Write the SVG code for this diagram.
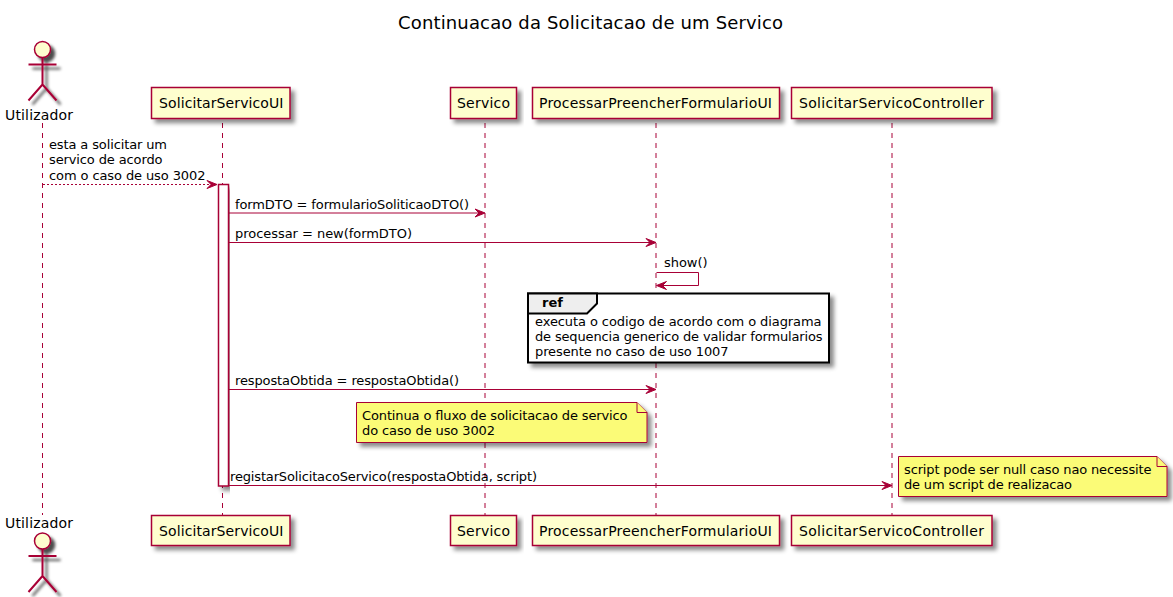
<svg xmlns="http://www.w3.org/2000/svg" width="1173" height="597" viewBox="0 0 1173 597">
<style>
text{font-family:"DejaVu Sans",sans-serif;font-size:13px;fill:#000}
.title{font-size:18px}
.b{font-size:14px}
.p{fill:#FEFECE;stroke:#A80036;stroke-width:1.5}
.ll{stroke:#A80036;stroke-width:1;stroke-dasharray:5,5;fill:none}
.m{stroke:#A80036;stroke-width:1;fill:none}
.h{fill:#A80036;stroke:#A80036;stroke-width:1}
.a{fill:none;stroke:#A80036;stroke-width:2}
.n{fill:#FBFB77;stroke:#A80036;stroke-width:1}
</style>
<defs>
<filter id="sh" x="-10%" y="-20%" width="120%" height="150%"><feDropShadow dx="4" dy="4" stdDeviation="2" flood-color="#000" flood-opacity="0.45"/></filter>
<filter id="sa" x="-60%" y="-20%" width="220%" height="140%"><feDropShadow dx="4" dy="4" stdDeviation="1.5" flood-color="#000" flood-opacity="0.7"/></filter>
<g id="man"><circle class="p" cx="0" cy="0" r="8"/><path class="a" d="M0 8V35M-14 15H14M0 35L-14 51M0 35L14 51"/></g>
</defs>
<text class="title" x="398" y="29" textLength="385">Continuacao da Solicitacao de um Servico</text>
<g id="connectors">
<line class="ll" x1="42.5" y1="123" x2="42.5" y2="515"/>
<line class="ll" x1="222.5" y1="123" x2="222.5" y2="515"/>
<line class="ll" x1="485" y1="123" x2="485" y2="515"/>
<line class="ll" x1="656" y1="123" x2="656" y2="515"/>
<line class="ll" x1="892" y1="123" x2="892" y2="515"/>
</g>
<g id="activation"><rect x="218.5" y="184.5" width="10" height="301.5" fill="#fff" stroke="#A80036" stroke-width="1.5" filter="url(#sh)"/></g>
<g id="messages">
<line class="m" x1="43" y1="184.5" x2="212" y2="184.5" stroke-dasharray="2,2"/>
<polygon class="h" points="217,184.5 207,180.5 211,184.5 207,188.5"/>
<text x="49" y="149" textLength="118">esta a solicitar um</text><text x="49" y="164" textLength="113.5">servico de acordo</text><text x="49" y="179.5" textLength="156.5">com o caso de uso 3002</text>
<line class="m" x1="229" y1="213" x2="480" y2="213"/>
<polygon class="h" points="485,213 475,209 479,213 475,217"/>
<text x="235" y="209" textLength="234">formDTO = formularioSoliticaoDTO()</text>
<line class="m" x1="229" y1="242.5" x2="651" y2="242.5"/>
<polygon class="h" points="656,242.5 646,238.5 650,242.5 646,246.5"/>
<text x="235" y="238" textLength="177">processar = new(formDTO)</text>
<path class="m" d="M656.5 272.5H698.5V285.5H661"/>
<polygon class="h" points="656.5,285.5 666.5,281.5 662.5,285.5 666.5,289.5"/>
<text x="664" y="267" textLength="43.5">show()</text>
<line class="m" x1="229" y1="389.5" x2="651" y2="389.5"/>
<polygon class="h" points="656,389.5 646,385.5 650,389.5 646,393.5"/>
<text x="235" y="385" textLength="224">respostaObtida = respostaObtida()</text>
<line class="m" x1="229" y1="485.5" x2="887" y2="485.5"/>
<polygon class="h" points="892,485.5 882,481.5 886,485.5 882,489.5"/>
<text x="230" y="481" textLength="307">registarSolicitacoServico(respostaObtida, script)</text>
</g>
<g id="actor-top"><use href="#man" x="42.5" y="49.5" filter="url(#sa)"/><text class="b" x="5" y="120" textLength="68">Utilizador</text></g>
<g id="actor-bottom"><use href="#man" x="42.5" y="541" filter="url(#sa)"/><text class="b" x="5" y="528" textLength="68">Utilizador</text></g>
<g id="p-ui-top"><rect class="p" x="151.5" y="87.5" width="138.5" height="31" filter="url(#sh)"/><text class="b" x="159" y="108" textLength="124.5">SolicitarServicoUI</text></g>
<g id="p-ui-bottom"><rect class="p" x="151.5" y="515.5" width="138.5" height="30" filter="url(#sh)"/><text class="b" x="159" y="536" textLength="124.5">SolicitarServicoUI</text></g>
<g id="p-servico-top"><rect class="p" x="450.5" y="87.5" width="66" height="31" filter="url(#sh)"/><text class="b" x="457" y="108" textLength="53">Servico</text></g>
<g id="p-servico-bottom"><rect class="p" x="450.5" y="515.5" width="66" height="30" filter="url(#sh)"/><text class="b" x="457" y="536" textLength="53">Servico</text></g>
<g id="p-form-top"><rect class="p" x="532.5" y="87.5" width="247" height="31" filter="url(#sh)"/><text class="b" x="539" y="108" textLength="233">ProcessarPreencherFormularioUI</text></g>
<g id="p-form-bottom"><rect class="p" x="532.5" y="515.5" width="247" height="30" filter="url(#sh)"/><text class="b" x="539" y="536" textLength="233">ProcessarPreencherFormularioUI</text></g>
<g id="p-ctrl-top"><rect class="p" x="791.5" y="87.5" width="200.5" height="31" filter="url(#sh)"/><text class="b" x="799" y="108" textLength="185">SolicitarServicoController</text></g>
<g id="p-ctrl-bottom"><rect class="p" x="791.5" y="515.5" width="200.5" height="30" filter="url(#sh)"/><text class="b" x="799" y="536" textLength="185">SolicitarServicoController</text></g>
<g id="ref">
<rect x="528" y="293.5" width="301" height="69" fill="#fff" stroke="#000" stroke-width="2" filter="url(#sh)"/>
<path d="M528 293.5H597V303.5L587 313.5H528Z" fill="#EEE" stroke="#000" stroke-width="2"/>
<text x="542" y="307" style="font-weight:bold">ref</text>
<text x="535" y="326" textLength="286.5">executa o codigo de acordo com o diagrama</text>
<text x="535" y="341" textLength="287.5">de sequencia generico de validar formularios</text>
<text x="535" y="356" textLength="193.5">presente no caso de uso 1007</text>
</g>
<g id="note-continua">
<path class="n" d="M356.5 402.5H637L647 412.5V442.5H356.5Z" filter="url(#sh)"/>
<path class="n" d="M637 402.5V412.5H647"/>
<text x="362" y="420" textLength="265.5">Continua o fluxo de solicitacao de servico</text>
<text x="362" y="435" textLength="133">do caso de uso 3002</text>
</g>
<g id="note-script">
<path class="n" d="M898.5 456.5H1157L1167 466.5V496.5H898.5Z" filter="url(#sh)"/>
<path class="n" d="M1157 456.5V466.5H1167"/>
<text x="904" y="474" textLength="247.5">script pode ser null caso nao necessite</text>
<text x="904" y="489" textLength="168">de um script de realizacao</text>
</g>
</svg>
